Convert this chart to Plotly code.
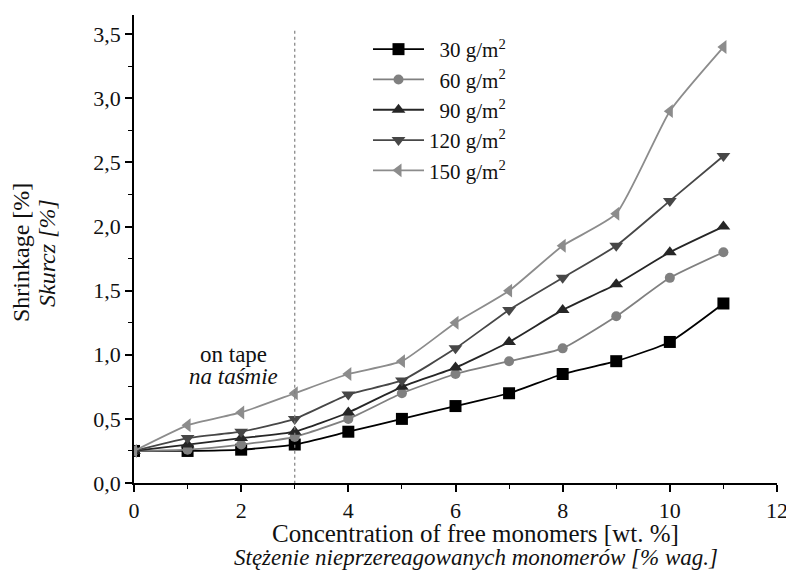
import plotly.graph_objects as go

x_vals = [0, 1, 2, 3, 4, 5, 6, 7, 8, 9, 10, 11]
s30 = [0.25, 0.25, 0.26, 0.30, 0.40, 0.50, 0.60, 0.70, 0.85, 0.95, 1.10, 1.40]
s60 = [0.25, 0.26, 0.30, 0.36, 0.50, 0.70, 0.85, 0.95, 1.05, 1.30, 1.60, 1.80]
s90 = [0.25, 0.30, 0.35, 0.40, 0.55, 0.75, 0.90, 1.10, 1.35, 1.55, 1.80, 2.00]
s120 = [0.25, 0.35, 0.40, 0.50, 0.69, 0.80, 1.05, 1.35, 1.60, 1.85, 2.20, 2.55]
s150 = [0.25, 0.45, 0.55, 0.70, 0.85, 0.95, 1.25, 1.50, 1.85, 2.10, 2.90, 3.40]

series_names = ["\u00a0\u00a030 g/m<sup>2</sup>", "\u00a0\u00a060 g/m<sup>2</sup>",
                "\u00a0\u00a090 g/m<sup>2</sup>", "120 g/m<sup>2</sup>", "150 g/m<sup>2</sup>"]
series_vals = [s30, s60, s90, s120, s150]
colors = ["#000000", "#808080", "#262626", "#474747", "#8c8c8c"]
symbols = ["square", "circle", "triangle-up", "triangle-down", "triangle-left"]

y_ticks = [0, 0.5, 1.0, 1.5, 2.0, 2.5, 3.0, 3.5]
y_ticktext = ["0,0", "0,5", "1,0", "1,5", "2,0", "2,5", "3,0", "3,5"]
x_ticks = [0, 2, 4, 6, 8, 10, 12]

FONT = "Liberation Serif, Times New Roman, serif"
TXT = "#111111"

W, H = 786, 578
L, R, T, B = 134, 9, 15, 95
pw, ph = W - L - R, H - T - B
def px(xp):
    return (xp - L) / pw
def py(yp):
    return (H - B - yp) / ph

fig = go.Figure()
for name, vals, c, sym in zip(series_names, series_vals, colors, symbols):
    fig.add_trace(go.Scatter(
        x=x_vals, y=vals, name=name, mode="lines+markers",
        line=dict(color=c, width=1.8, shape="spline", smoothing=0.5),
        marker=dict(symbol=sym, size=12 if sym != "circle" else 10, color=c),
    ))

fig.add_shape(type="line", xref="x", yref="y", x0=3, x1=3, y0=-0.1, y1=3.55,
              line=dict(color="#808080", width=1.2, dash="dot"))

ann_common = dict(showarrow=False, xanchor="center", yanchor="middle")
fig.add_annotation(x=1.85, y=1.0, xref="x", yref="y", text="on tape",
                   font=dict(family=FONT, size=23, color=TXT), **ann_common)
fig.add_annotation(x=1.85, y=0.83, xref="x", yref="y", text="<i>na taśmie</i>",
                   font=dict(family=FONT, size=23, color=TXT), **ann_common)

fig.add_annotation(x=px(21), y=py(253), xref="paper", yref="paper", text="Shrinkage [%]",
                   textangle=-90, font=dict(family=FONT, size=24, color=TXT), **ann_common)
fig.add_annotation(x=px(47), y=py(253), xref="paper", yref="paper", text="<i>Skurcz [%]</i>",
                   textangle=-90, font=dict(family=FONT, size=24, color=TXT), **ann_common)
fig.add_annotation(x=px(475), y=py(533), xref="paper", yref="paper",
                   text="Concentration of free monomers [wt. %]",
                   font=dict(family=FONT, size=25, color=TXT), **ann_common)
fig.add_annotation(x=px(476), y=py(557), xref="paper", yref="paper",
                   text="<i>Stężenie nieprzereagowanych monomerów [% wag.]</i>",
                   font=dict(family=FONT, size=23, color=TXT), **ann_common)

fig.update_layout(
    width=W, height=H,
    margin=dict(l=L, r=R, t=T, b=B, autoexpand=False),
    paper_bgcolor="white", plot_bgcolor="white",
    font=dict(family=FONT, size=22, color=TXT),
    showlegend=True,
    legend=dict(x=px(368), y=py(29), xanchor="left", yanchor="top", bgcolor="rgba(0,0,0,0)",
                font=dict(family=FONT, size=21, color=TXT), tracegroupgap=0,
                itemwidth=51),
    xaxis=dict(range=[0, 12], tickvals=x_ticks, showgrid=False, zeroline=False, automargin=False,
               showline=True, linecolor="#000", linewidth=1.5, ticklabeloverflow="allow",
               ticks="outside", ticklen=7, tickwidth=1.5, tickcolor="#000",
               minor=dict(dtick=1, ticks="outside", ticklen=4, tickwidth=1.2, tickcolor="#000"),
               tickfont=dict(family=FONT, size=22, color=TXT)),
    yaxis=dict(range=[0, 3.65], tickvals=y_ticks, ticktext=y_ticktext, showgrid=False, zeroline=False,
               automargin=False, ticklabeloverflow="allow",
               showline=True, linecolor="#000", linewidth=1.5,
               ticks="outside", ticklen=7, tickwidth=1.5, tickcolor="#000",
               minor=dict(tickvals=[0.25, 0.75, 1.25, 1.75, 2.25, 2.75, 3.25], ticks="outside",
                          ticklen=4, tickwidth=1.2, tickcolor="#000"),
               tickfont=dict(family=FONT, size=22, color=TXT)),
)

fig.write_html("out.html", config={"displayModeBar": False},
               post_script="document.body.style.margin='0';")
